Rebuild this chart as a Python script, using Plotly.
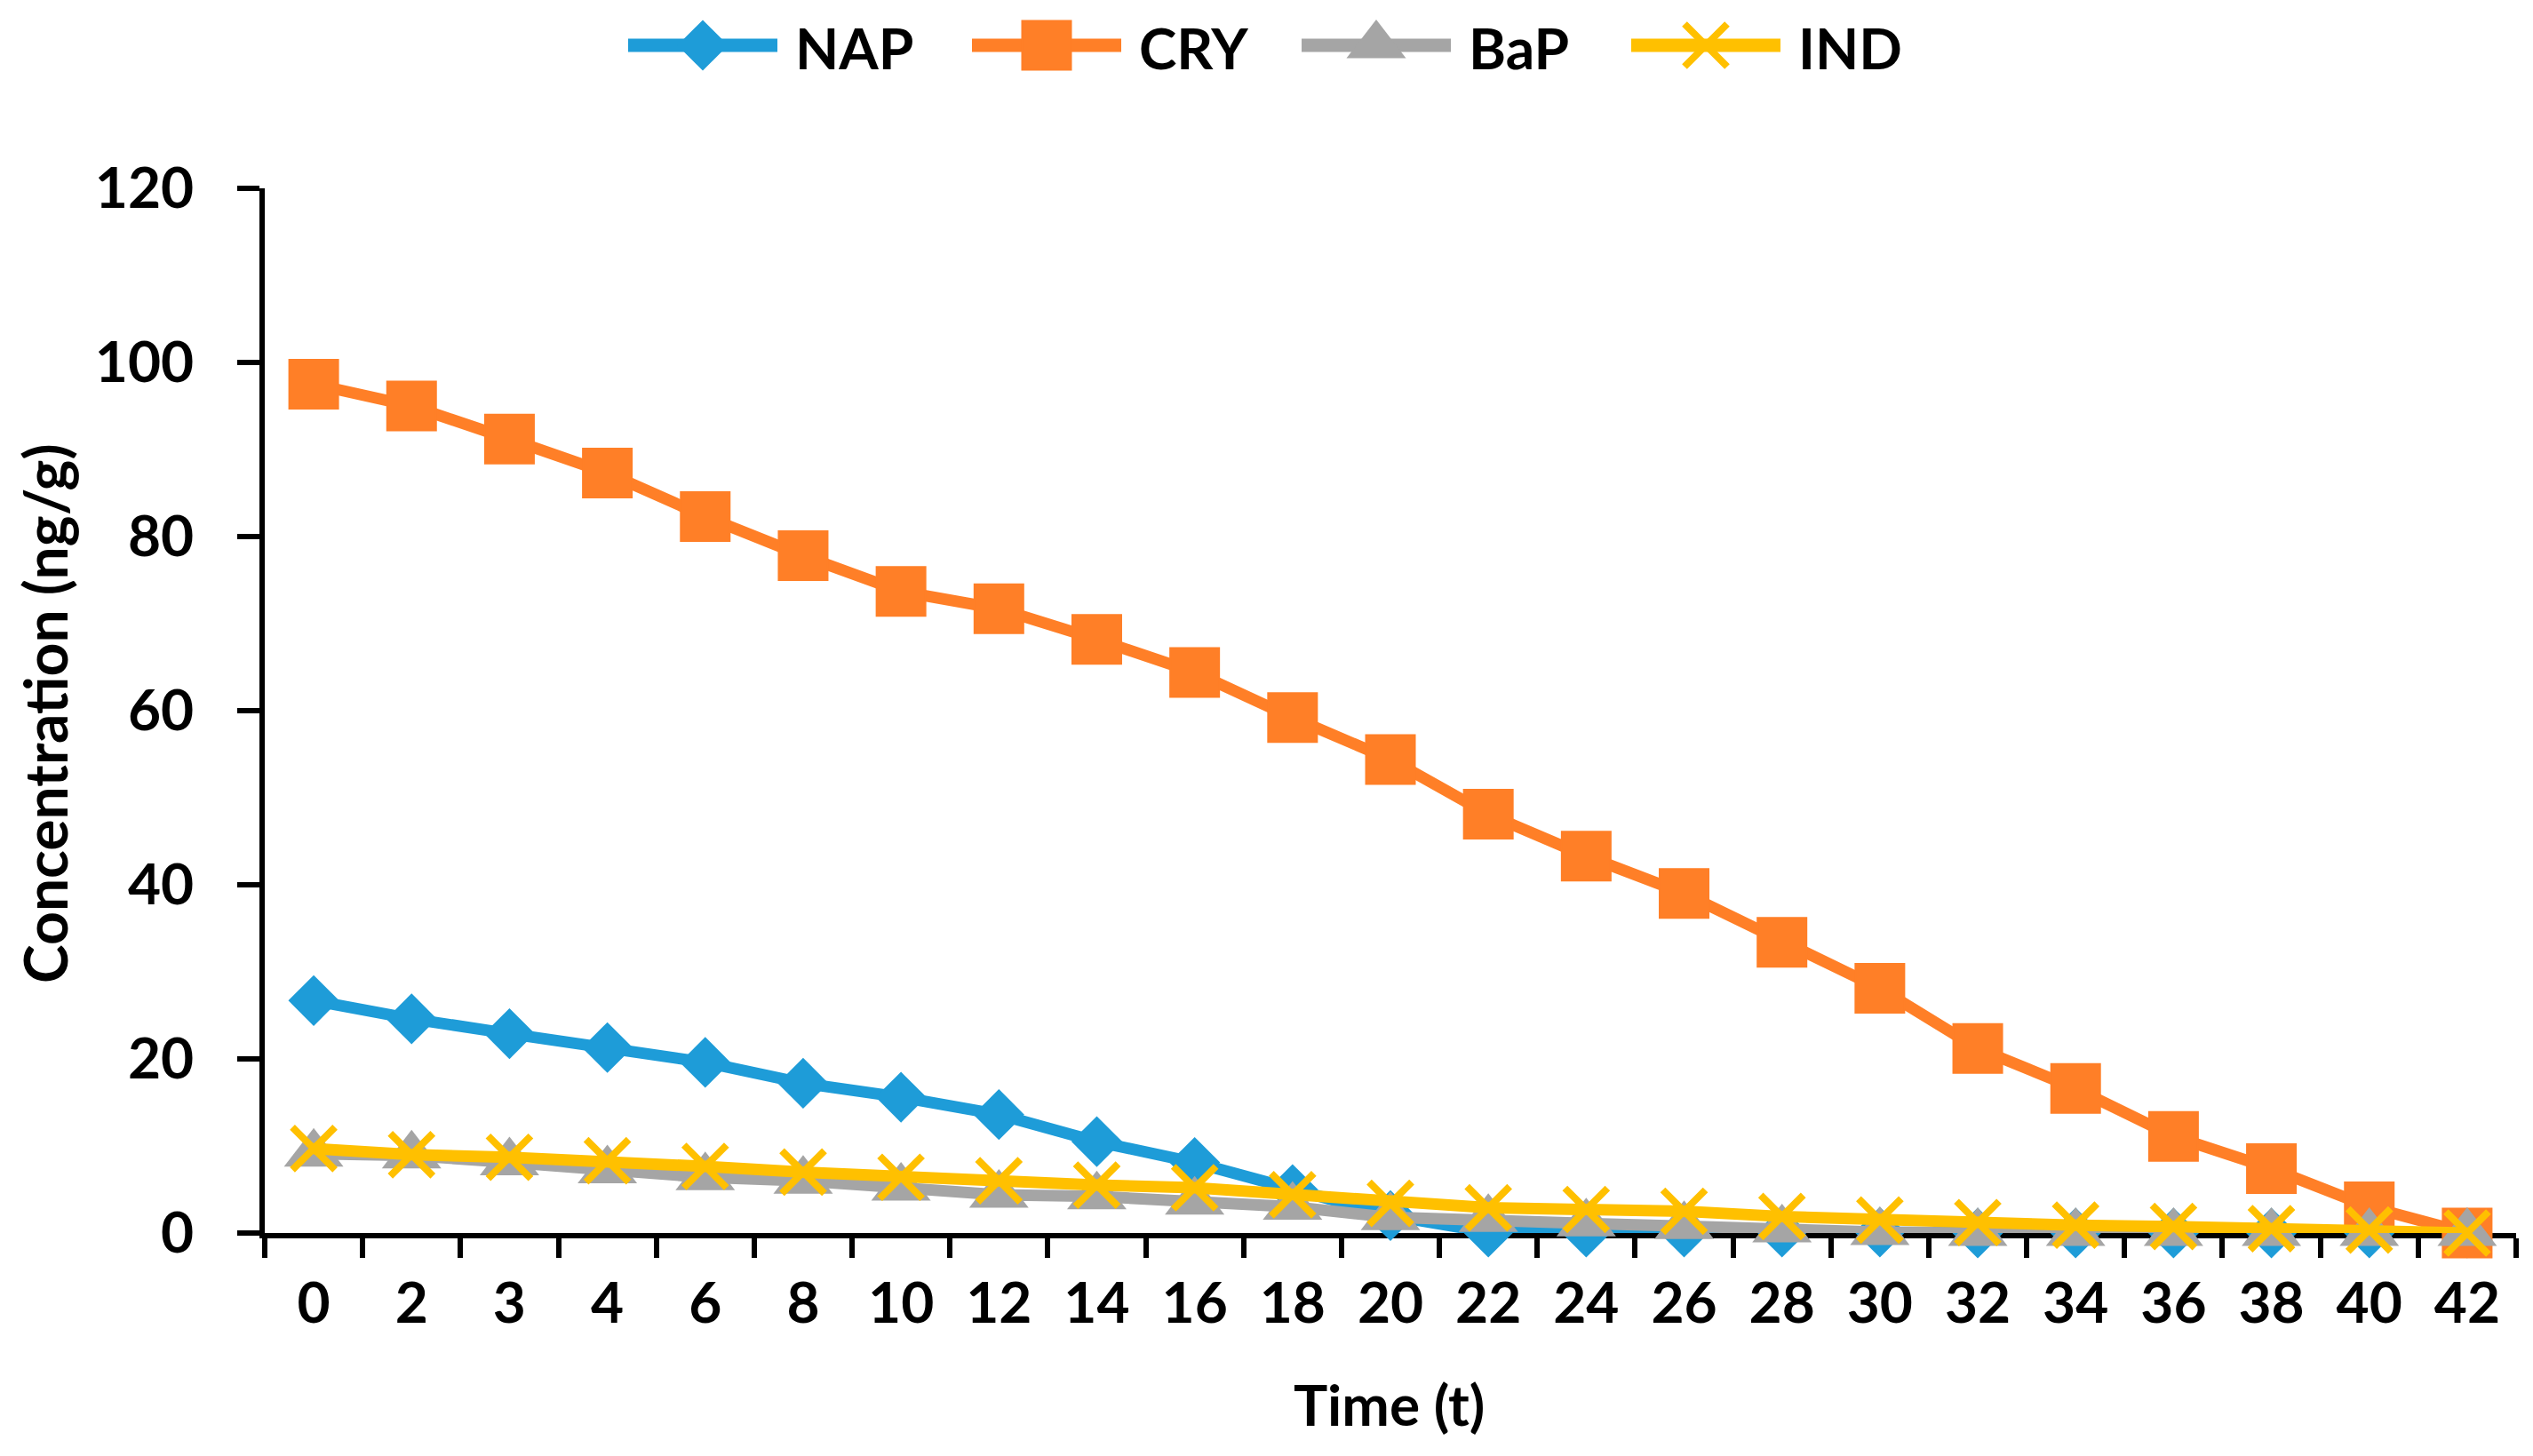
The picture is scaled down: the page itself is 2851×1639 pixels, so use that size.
import plotly.graph_objects as go

# ---------------- data ----------------
time_labels = ["0", "2", "3", "4", "6", "8", "10", "12", "14", "16", "18", "20",
               "22", "24", "26", "28", "30", "32", "34", "36", "38", "40", "42"]
nap = [26.7, 24.6, 22.9, 21.3, 19.6, 17.2, 15.6, 13.6, 10.5, 8.1, 5.0, 2.0,
       0.1, 0.1, 0.1, 0.1, 0.1, 0, 0, 0, 0, 0, 0]
cry = [97.5, 95.0, 91.2, 87.3, 82.3, 77.8, 73.7, 71.7, 68.2, 64.4, 59.2, 54.4,
       48.1, 43.3, 39.0, 33.4, 28.1, 21.2, 16.6, 11.1, 7.4, 3.0, 0]
bap = [9.1, 8.9, 8.1, 7.2, 6.4, 6.0, 5.2, 4.4, 4.2, 3.6, 3.0, 1.8,
       1.6, 1.1, 0.8, 0.4, 0.1, 0, 0, 0, 0, 0, 0]
ind = [9.7, 9.0, 8.7, 8.3, 7.65, 7.0, 6.4, 6.0, 5.5, 5.2, 4.4, 3.4,
       2.9, 2.7, 2.5, 1.9, 1.5, 1.2, 0.9, 0.75, 0.5, 0.35, 0]
y_ticks = [0, 20, 40, 60, 80, 100, 120]
series_names = ["NAP", "CRY", "BaP", "IND"]

# ---------------- styling ----------------
OFF = 8                               # default page margin of the html body
W, H = 2851 - OFF, 1639 - OFF
ML, MR, MB = 298 - OFF, 19, 251
PLOT_TOP = 212 - OFF                  # pixel row of y = 120 (figure coords)
AREA_H = H - MB                       # plot area height (t = 0)
FONT = "Lato"
FS = 64
LW = 13

styles = {
    "NAP": dict(color="#1E9CD8", symbol="diamond", size=44, lw=0),
    "CRY": dict(color="#FF7F27", symbol="square", size=55, lw=2),
    "BaP": dict(color="#A5A5A5", symbol="triangle-up", size=58, lw=0),
    "IND": dict(color="#FFC000", symbol="x-thin", size=48, lw=8),
}
values = {"NAP": nap, "CRY": cry, "BaP": bap, "IND": ind}

fig = go.Figure()
for name in series_names:
    s = styles[name]
    fig.add_trace(go.Scatter(
        x=time_labels, y=values[name], name=name, mode="lines+markers",
        line=dict(color=s["color"], width=LW),
        marker=dict(symbol=s["symbol"], size=s["size"], color=s["color"],
                    line=dict(color=s["color"], width=s["lw"])),
        cliponaxis=False, showlegend=False,
        xaxis="x", yaxis="y",
    ))

# ---------------- custom legend (drawn in a pixel-mapped helper subplot) ----------------
LEG_Y = 51 - OFF
leg_x0 = [707 - OFF, 1094 - OFF, 1465 - OFF, 1836 - OFF]
LEG_LEN = 168
for name, x0 in zip(series_names, leg_x0):
    s = styles[name]
    fig.add_trace(go.Scatter(
        x=[x0, x0 + LEG_LEN], y=[LEG_Y, LEG_Y], mode="lines",
        line=dict(color=s["color"], width=LW + 2), showlegend=False,
        hoverinfo="skip", xaxis="x2", yaxis="y2"))
    fig.add_trace(go.Scatter(
        x=[x0 + LEG_LEN / 2], y=[LEG_Y], mode="markers",
        marker=dict(symbol=s["symbol"], size=s["size"], color=s["color"],
                    line=dict(color=s["color"], width=s["lw"])),
        showlegend=False, hoverinfo="skip", cliponaxis=False,
        xaxis="x2", yaxis="y2"))
    fig.add_annotation(
        x=x0 + LEG_LEN + 18, y=LEG_Y + 2, xref="x2", yref="y2",
        text=name, showarrow=False, xanchor="left", yanchor="middle",
        font=dict(family=FONT, size=FS, color="black", weight="bold"))


def paper_x(px):
    return (px - OFF - ML) / (W - ML - MR)


def paper_y(py):
    return (AREA_H - (py - OFF)) / AREA_H


# axis titles (positions given in page pixels)
fig.add_annotation(
    x=paper_x(1563), y=paper_y(1580), xref="paper", yref="paper",
    text="Time (t)", showarrow=False, xanchor="center", yanchor="middle",
    font=dict(family=FONT, size=FS, color="black", weight="bold"))
fig.add_annotation(
    x=paper_x(50), y=paper_y(803), xref="paper", yref="paper",
    text="Concentration (ng/g)", textangle=-90, showarrow=False,
    xanchor="center", yanchor="middle",
    font=dict(family=FONT, size=FS + 2, color="black", weight="bold"))

main_top = (AREA_H - PLOT_TOP) / AREA_H

fig.update_layout(
    width=W, height=H,
    margin=dict(l=ML, r=MR, t=0, b=MB, autoexpand=False),
    paper_bgcolor="white", plot_bgcolor="white",
    showlegend=False,
    font=dict(family=FONT, size=FS, color="black"),
    xaxis=dict(
        type="category", categoryorder="array", categoryarray=time_labels,
        range=[-0.5, len(time_labels) - 0.5], automargin=False,
        showline=True, linecolor="black", linewidth=6,
        ticks="outside", ticklen=22, tickwidth=6, tickcolor="black",
        tickson="boundaries", showgrid=False, zeroline=False,
        tickfont=dict(family=FONT, size=FS, color="black", weight="bold"),
        ticklabelstandoff=18, layer="below traces", anchor="y",
    ),
    yaxis=dict(
        domain=[0, main_top], range=[0, 120], tickvals=y_ticks,
        automargin=False,
        showline=True, linecolor="black", linewidth=6,
        ticks="outside", ticklen=25, tickwidth=6, tickcolor="black",
        showgrid=False, zeroline=False,
        tickfont=dict(family=FONT, size=FS, color="black", weight="bold"),
        ticklabelstandoff=36, layer="below traces", anchor="x",
    ),
    xaxis2=dict(domain=[0, 1], range=[ML, W - MR], visible=False,
                anchor="y2", fixedrange=True, automargin=False),
    yaxis2=dict(domain=[main_top, 1], range=[PLOT_TOP, 0], visible=False,
                anchor="x2", fixedrange=True, automargin=False),
)

fig.write_html("out.html")
